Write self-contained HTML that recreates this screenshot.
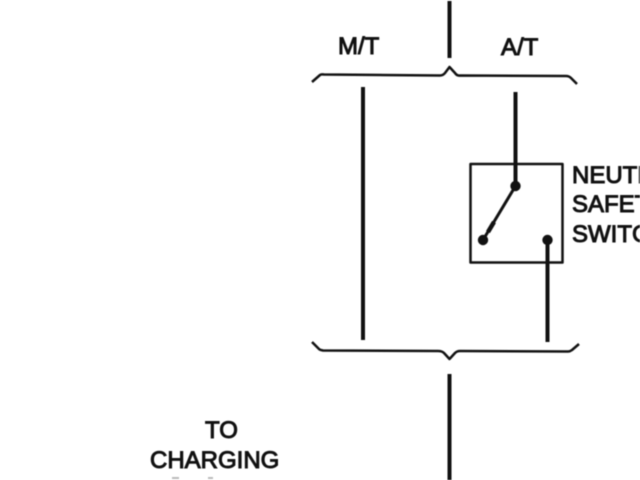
<!DOCTYPE html>
<html>
<head>
<meta charset="utf-8">
<style>
html,body{margin:0;padding:0;background:#fff;width:640px;height:480px;overflow:hidden}
svg{display:block;filter:blur(0.5px)}
text{font-family:"Liberation Sans",Arial,sans-serif;font-size:24px;fill:#111;stroke:#111;stroke-width:1px}
</style>
</head>
<body>
<svg width="640" height="480" viewBox="0 0 640 480" xmlns="http://www.w3.org/2000/svg">
<g fill="none" stroke="#111" stroke-linecap="butt" stroke-linejoin="round">
<path d="M449.500 1V58" stroke-width="4"/>
<path d="M312 82L320 75Q321 74 324 74.500L440 75.500Q443 75.500 445 73L449.500 67L455 73Q457 76 460 75.500L566 76Q569 76 571 78L577 84" stroke-width="2.500"/>
<path d="M363 87V340" stroke-width="4"/>
<path d="M515.500 92V186" stroke-width="4"/>
<rect x="470.500" y="164" width="92" height="98.500" stroke-width="2.500"/>
<path d="M515.500 186L483 240" stroke-width="3"/>
<path d="M488 232L494 222" stroke-width="4.500"/>
<path d="M547.500 240V342" stroke-width="4"/>
<path d="M312 342L319 349Q320 350 323 350.500L438 351Q442 351 444 353L449.500 359L455 353Q457 351 460 351L568 351.500Q570 351.500 572 350L579 344" stroke-width="2.500"/>
<path d="M449.500 374V480" stroke-width="4"/>
</g>
<g fill="#111">
<circle cx="515.500" cy="186" r="5.200"/>
<circle cx="483" cy="240" r="5.200"/>
<circle cx="547.500" cy="240" r="5.200"/>
</g>
<g fill="#bbb">
<rect x="172" y="477" width="7" height="2"/>
<rect x="208" y="477" width="5" height="2"/>
</g>
<text x="338" y="54">M/T</text>
<text x="501" y="55">A/T</text>
<text x="572" y="183">NEUTRAL</text>
<text x="572" y="212">SAFETY</text>
<text x="572" y="242">SWITCH</text>
<text x="205" y="438">TO</text>
<text x="150" y="468">CHARGING</text>
</svg>
</body>
</html>
